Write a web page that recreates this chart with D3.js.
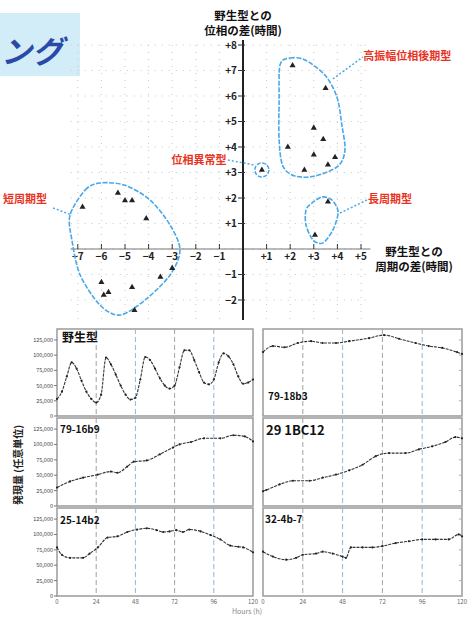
<!DOCTYPE html>
<html><head><meta charset="utf-8">
<script src="https://cdn.jsdelivr.net/npm/d3@7"></script>
<style>
body{margin:0;background:#fff}
svg{display:block;font-family:"Noto Sans CJK JP","Noto Sans",sans-serif}
</style></head>
<body><svg id="c" width="470" height="618"></svg>
<script>
// ---------- scatter data (period diff vs phase diff, hours) ----------
const periodDiff = [2.1,3.5,3.0,3.4,1.9,3.0,3.9,3.6,2.6, 0.8, 3.6,3.05, -5.3,-6.8,-5.0,-4.7,-4.1,-6.0,-5.7,-5.9,-4.7,-3.5,-3.0,-4.6];
const phaseDiff  = [7.2,6.3,4.75,4.3,4.0,3.7,3.6,3.3,3.1, 3.1, 1.85,0.55, 2.2,1.65,1.9,1.9,1.2,-1.3,-1.7,-1.8,-1.5,-1.1,-0.75,-2.4];
const xTicks = [-7,-6,-5,-4,-3,-2,-1,1,2,3,4,5];
const yTicks = [8,7,6,5,4,3,2,1,-1,-2];
const clusterNames = ["高振幅位相後期型","位相異常型","長周期型","短周期型"];
// cluster outlines (in data units)
const outlineLongLate = [[1.57,7.22],[1.99,7.49],[2.63,7.41],[3.47,6.82],[3.98,5.96],[4.19,4.86],[4.32,3.88],[4.03,3.25],[3.05,2.86],[2.2,2.86],[1.69,3.25],[1.53,4.27],[1.53,5.84]];
const outlineLong = [[2.92,1.8],[3.35,2.04],[3.77,1.92],[4.03,1.45],[3.81,0.75],[3.39,0.24],[2.97,0.35],[2.67,0.94],[2.67,1.53]];
const outlineShort = [[-7.33,1.33],[-6.69,2.31],[-6.06,2.59],[-5.0,2.5],[-3.94,1.92],[-3.09,0.94],[-2.67,-0.04],[-3.09,-1.02],[-4.15,-2.0],[-5.21,-2.59],[-6.06,-2.2],[-6.9,-1.02],[-7.25,0.35]];
const outlineOdd = [0.8,3.1];
const leaders = [[[3.81,6.67],[5.08,7.53]],[[-0.64,3.49],[0.5,3.29]],[[4.11,1.41],[5.25,1.92]],[[-8.05,1.61],[-7.25,1.33]]];

// ---------- time-course panels ----------
const panelNames = ["野生型","79-18b3","79-16b9","29 1BC12","25-14b2","32-4b-7"];
const hoursWT = [0,3,6,9,12,15,18,21,24,27,30,33,36,39,42,45,48,51,54,57,60,63,66,69,72,75,78,81,84,87,90,93,96,99,102,105,108,111,114,117,120];
const valuesWT = [28000,40000,65000,88000,78000,58000,40000,28000,22000,35000,96000,85000,68000,50000,35000,27000,30000,60000,97000,92000,78000,62000,50000,45000,50000,80000,108000,108000,92000,72000,55000,52000,60000,88000,103000,98000,85000,65000,53000,55000,60000];
const hours2 = [0,6,13,21,29,36,44,52,64,73,82,92,100,108,117,120];
const values2 = [105000,115000,113000,120000,123000,120000,120000,123000,128000,133000,127000,120000,115000,112000,105000,102000];
const hours3 = [0,8,16,25,33,37,43,47,55,63,71,75,82,90,100,108,115,120];
const values3 = [30000,40000,46000,51000,56000,54000,64000,72000,74000,84000,95000,100000,104000,110000,110000,115000,113000,105000];
const hours4 = [0,2,10,18,28,36,44,52,60,68,76,86,94,102,110,116,120];
const values4 = [24000,26000,35000,41000,41000,46000,51000,58000,67000,81000,86000,86000,92000,97000,104000,112000,110000];
const hours5 = [0,3,8,16,20,25,31,37,43,49,55,61,65,69,73,77,81,88,94,100,106,111,114,120];
const values5 = [79000,67000,62000,62000,69000,79000,95000,97000,104000,108000,110000,107000,104000,105000,107000,104000,108000,105000,99000,92000,82000,80000,79000,71000];
const hours6 = [0,6,14,20,24,32,36,42,48,50,53,60,66,72,80,88,96,104,112,118,120];
const values6 = [72000,64000,59000,62000,67000,69000,72000,69000,64000,62000,79000,79000,79000,81000,86000,89000,92000,92000,92000,100000,97000];
const hourTicks = [0,24,48,72,96,120];
const valueTicks = [0,25000,50000,75000,100000,125000];

const svg = d3.select("#c");

// ---------- title fragment ----------
svg.append("rect").attr("x",0).attr("y",13).attr("width",80).attr("height",63).attr("fill","#d2ecf8");
svg.append("text").attr("x",1).attr("y",63).attr("font-size",31).attr("font-style","italic").attr("font-weight","bold")
  .attr("fill","#2a4aa8").text("ング");

// ---------- scatter ----------
const x = d3.scaleLinear().domain([-7,5]).range([77.8,361]);
const y = d3.scaleLinear().domain([8,-2]).range([45,300]);

const grid = svg.append("g");
d3.range(-7,6).forEach(v=>{
  grid.append("line").attr("x1",x(v)).attr("x2",x(v)).attr("y1",y(8)).attr("y2",y(-2.8))
    .attr("stroke","#c8c8c8").attr("stroke-dasharray","1,6");
});
d3.range(-2,9).forEach(v=>{
  grid.append("line").attr("x1",x(-7.3)).attr("x2",x(5.3)).attr("y1",y(v)).attr("y2",y(v))
    .attr("stroke","#c8c8c8").attr("stroke-dasharray","1,6");
});

// x axis
svg.append("line").attr("x1",x(-7.3)).attr("x2",x(5.4)).attr("y1",y(0)).attr("y2",y(0)).attr("stroke","#777").attr("stroke-width",1);
const xa = svg.append("g").selectAll("g").data(xTicks).join("g").attr("transform",d=>`translate(${x(d)},${y(0)})`);
xa.append("line").attr("y1",-5).attr("y2",0).attr("stroke","#333");
xa.append("text").attr("y",11).attr("text-anchor","middle").attr("font-size",10).attr("font-weight","bold").attr("fill","#222")
  .text(d=>d>0?"+"+d:"−"+Math.abs(d));

// y axis
svg.append("line").attr("x1",x(0)).attr("x2",x(0)).attr("y1",40).attr("y2",320).attr("stroke","#222").attr("stroke-width",2);
const ya = svg.append("g").selectAll("g").data(yTicks).join("g").attr("transform",d=>`translate(${x(0)},${y(d)})`);
ya.append("line").attr("x1",-5).attr("x2",2).attr("stroke","#333");
ya.append("text").attr("x",-6).attr("dy","0.35em").attr("text-anchor","end").attr("font-size",10).attr("font-weight","bold").attr("fill","#222")
  .text(d=>d>0?"+"+d:"−"+Math.abs(d));

// axis titles
svg.append("text").attr("x",x(0)).attr("y",20).attr("text-anchor","middle").attr("font-size",11.5).attr("font-weight","bold").attr("fill","#111").text("野生型との");
svg.append("text").attr("x",x(0)).attr("y",34.5).attr("text-anchor","middle").attr("font-size",11.5).attr("font-weight","bold").attr("fill","#111").text("位相の差(時間)");
svg.append("text").attr("x",414).attr("y",256).attr("text-anchor","middle").attr("font-size",11.5).attr("font-weight","bold").attr("fill","#111").text("野生型との");
svg.append("text").attr("x",414).attr("y",270.5).attr("text-anchor","middle").attr("font-size",11.5).attr("font-weight","bold").attr("fill","#111").text("周期の差(時間)");

// outlines
const closed = d3.line().x(d=>x(d[0])).y(d=>y(d[1])).curve(d3.curveCardinalClosed.tension(0.1));
[outlineLongLate,outlineLong,outlineShort].forEach(o=>{
  svg.append("path").attr("d",closed(o)).attr("fill","none").attr("stroke","#4aa8e8").attr("stroke-width",1.6).attr("stroke-dasharray","5,1.5");
});
svg.append("circle").attr("cx",x(outlineOdd[0])).attr("cy",y(outlineOdd[1])).attr("r",7)
  .attr("fill","none").attr("stroke","#4aa8e8").attr("stroke-width",1.5).attr("stroke-dasharray","4,1.5");
leaders.forEach(l=>{
  svg.append("line").attr("x1",x(l[0][0])).attr("y1",y(l[0][1])).attr("x2",x(l[1][0])).attr("y2",y(l[1][1]))
    .attr("stroke","#4aa8e8").attr("stroke-width",1.5).attr("stroke-dasharray","2,2");
});

// labels
const labPos = [[5.1,7.55,"start"],[-0.7,3.5,"end"],[5.3,1.95,"start"],[-8.3,1.95,"end"]];
clusterNames.forEach((n,i)=>{
  svg.append("text").attr("x",x(labPos[i][0])).attr("y",y(labPos[i][1])).attr("dy","0.35em").attr("text-anchor",labPos[i][2])
    .attr("font-size",11).attr("font-weight","bold").attr("fill","#e8321e").text(n);
});

// points
svg.append("g").selectAll("path").data(periodDiff.map((d,i)=>[d,phaseDiff[i]])).join("path")
  .attr("transform",d=>`translate(${x(d[0])},${y(d[1])})`)
  .attr("d",d3.symbol(d3.symbolTriangle,16)).attr("fill","#222");

// ---------- panels ----------
const cols = [[57,253],[263,462]];
const rows = [[329,416],[418,506],[508,596]];
const panelData = [[hoursWT,valuesWT],[hours2,values2],[hours3,values3],[hours4,values4],[hours5,values5],[hours6,values6]];
const titlePos = [[5,13,12],[5,71,10],[3,15,10],[3,17,13],[3,16,10],[2,15,10]];

panelData.forEach((pd,i)=>{
  const c = cols[i%2], r = rows[Math.floor(i/2)];
  const px = d3.scaleLinear().domain([0,120]).range(c);
  const py = d3.scaleLinear().domain([0,143000]).range([r[1],r[0]]);
  const g = svg.append("g");
  g.append("rect").attr("x",c[0]).attr("y",r[0]).attr("width",c[1]-c[0]).attr("height",r[1]-r[0])
    .attr("fill","#fff").attr("stroke","#9a9a9a").attr("stroke-width",1.5);
  hourTicks.slice(1,5).forEach((h,k)=>{
    g.append("line").attr("x1",px(h)).attr("x2",px(h)).attr("y1",r[0]).attr("y2",r[1])
      .attr("stroke",k%2?"#8fb8d8":"#a0a0a0").attr("stroke-dasharray","5,3");
  });
  if(i%2===0){
    valueTicks.forEach(v=>{
      g.append("line").attr("x1",c[0]-3).attr("x2",c[0]).attr("y1",py(v)).attr("y2",py(v)).attr("stroke","#777");
      g.append("text").attr("x",c[0]-4).attr("y",py(v)).attr("dy","0.35em").attr("text-anchor","end")
        .attr("font-size",5.5).attr("fill","#444").text(d3.format(",")(v));
    });
  } else {
    valueTicks.forEach(v=>{
      g.append("line").attr("x1",c[1]).attr("x2",c[1]-3).attr("y1",py(v)).attr("y2",py(v)).attr("stroke","#8fb8d8");
    });
  }
  if(i>=4){
    hourTicks.forEach(h=>{
      g.append("text").attr("x",px(h)).attr("y",r[1]+8).attr("text-anchor","middle").attr("font-size",6).attr("fill","#666").text(h);
    });
  }
  const line = d3.line().x((d,k)=>px(pd[0][k])).y(d=>py(d)).curve(d3.curveMonotoneX);
  g.append("path").attr("d",line(pd[1])).attr("fill","none").attr("stroke","#333").attr("stroke-width",1.1).attr("stroke-dasharray","3,1");
  g.append("g").selectAll("circle").data(pd[1]).join("circle")
    .attr("cx",(d,k)=>px(pd[0][k])).attr("cy",d=>py(d)).attr("r",1.1).attr("fill","#222");
  const tp = titlePos[i];
  g.append("text").attr("x",c[0]+tp[0]).attr("y",r[0]+tp[1]).attr("font-size",tp[2]).attr("font-weight","bold").attr("fill","#111").text(panelNames[i]);
});

// shared axis titles
svg.append("text").attr("transform","translate(22,465) rotate(-90)").attr("text-anchor","middle")
  .attr("font-size",10).attr("font-weight","bold").attr("fill","#222").text("発現量 (任意単位)");
svg.append("text").attr("x",232).attr("y",614).attr("font-size",7).attr("fill","#888").text("Hours (h)");
</script></body></html>
